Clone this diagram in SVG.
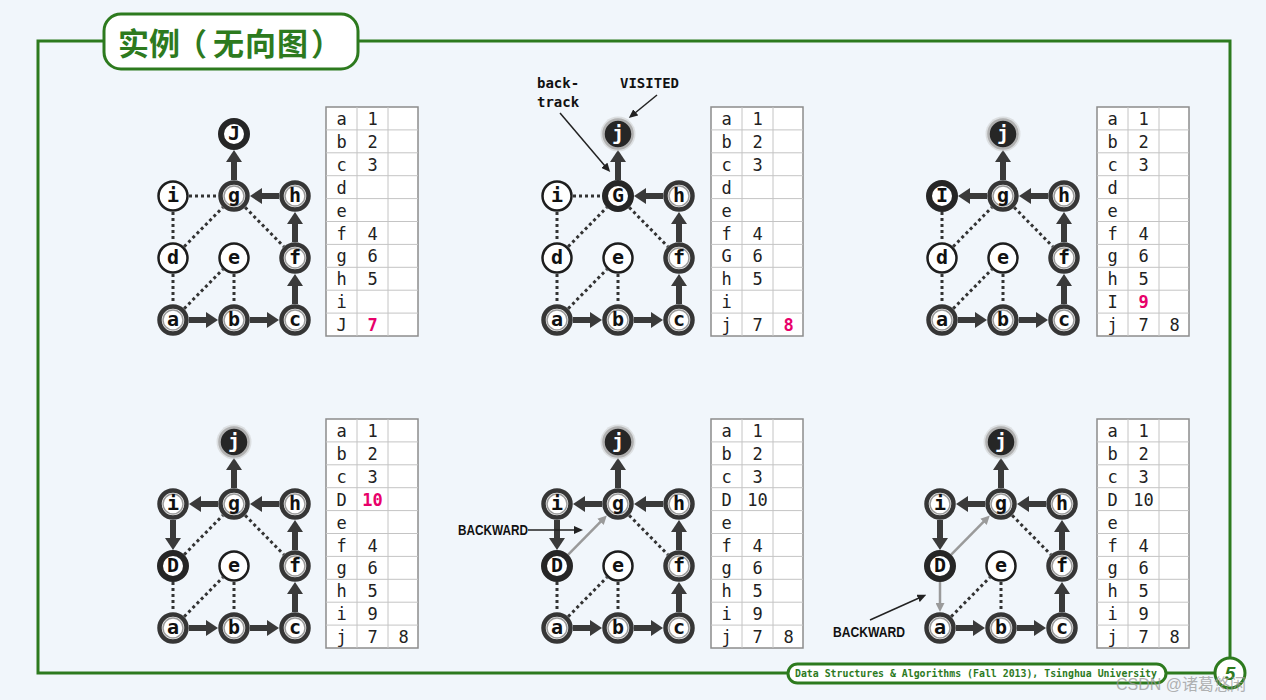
<svg xmlns="http://www.w3.org/2000/svg" xmlns:xlink="http://www.w3.org/1999/xlink" width="1266" height="700" viewBox="0 0 1266 700">
<defs>
<style>
.tree{stroke:#3a3a3a;stroke-width:6;fill:none;marker-end:url(#mTree)}
.dot{stroke:#333;stroke-width:3;stroke-dasharray:3 3;fill:none}
.back{stroke:#9a9a9a;stroke-width:2.5;fill:none;marker-end:url(#mGray)}
.note{stroke:#222;stroke-width:1.5;fill:none;marker-end:url(#mNote)}
circle.u{fill:#fff;stroke:#1e1e1e;stroke-width:2.5}
circle.v{fill:#fff;stroke:#363636;stroke-width:4.5}
circle.vi{fill:none;stroke:#9c9c9c;stroke-width:1.5}
circle.c{fill:#fff;stroke:#262626;stroke-width:6}
circle.f{fill:#262626;stroke:#b0b0b0;stroke-width:2.5}
circle.g{fill:#c8c8c8;opacity:0.5}
.lbl{font-family:"DejaVu Sans Mono","Liberation Mono",monospace;font-weight:bold;font-size:20px;text-anchor:middle;fill:#111}
.w{fill:#fff}
.tt{font-family:"DejaVu Sans Mono","Liberation Mono",monospace;font-size:17px;text-anchor:middle;fill:#222}
.pk{fill:#e8006a;font-weight:bold}
.ann{font-family:"DejaVu Sans Mono","Liberation Mono",monospace;font-weight:bold;font-size:14px;fill:#111}
.bw{font-family:"Liberation Sans","DejaVu Sans",sans-serif;font-weight:bold;font-size:14px;fill:#111}
</style>
<marker id="mTree" markerUnits="userSpaceOnUse" markerWidth="12" markerHeight="16" viewBox="0 0 12 16" refX="2" refY="8" orient="auto"><path d="M0,0 L12,8 L0,16 z" fill="#3a3a3a"/></marker>
<marker id="mGray" markerUnits="userSpaceOnUse" markerWidth="9" markerHeight="9" viewBox="0 0 9 9" refX="1" refY="4.5" orient="auto"><path d="M0,0 L9,4.5 L0,9 z" fill="#9a9a9a"/></marker>
<marker id="mNote" markerUnits="userSpaceOnUse" markerWidth="9" markerHeight="8" viewBox="0 0 9 8" refX="1" refY="4" orient="auto"><path d="M0,0 L9,4 L0,8 z" fill="#222"/></marker>
<g id="grid"><rect x="0" y="0" width="92" height="229" fill="#fff" stroke="#8c8c8c" stroke-width="1.5"/><path d="M0,22.9H92M0,45.8H92M0,68.7H92M0,91.6H92M0,114.5H92M0,137.4H92M0,160.3H92M0,183.2H92M0,206.1H92M31,0V229M62,0V229" stroke="#c4c4c4" stroke-width="1"/></g>
</defs>
<rect width="1266" height="700" fill="#f1f6fb"/>

<!-- frame -->
<g id="frame">
<rect x="38" y="41" width="1192" height="632" fill="none" stroke="#2d7a1e" stroke-width="3"/>
<rect x="104" y="14" width="254" height="55" rx="17" fill="#fff" stroke="#2d7a1e" stroke-width="3"/>
<text x="118 149 176 213 245 277 311" y="55" font-family="'Noto Sans CJK SC',sans-serif" font-weight="bold" font-size="31" fill="#2d7a1e">实例（无向图）</text>
<rect x="788" y="664" width="378" height="19" rx="9.5" fill="#fff" stroke="#2d7a1e" stroke-width="3"/>
<text x="795" y="677" font-family="'DejaVu Sans Mono',monospace" font-weight="bold" font-size="10" fill="#2d7a1e" textLength="362" lengthAdjust="spacingAndGlyphs">Data Structures &amp; Algorithms (Fall 2013), Tsinghua University</text>
<circle cx="1230" cy="673" r="15" fill="#fff" stroke="#2d7a1e" stroke-width="3"/>
<text x="1230" y="680" text-anchor="middle" font-family="'Liberation Sans',sans-serif" font-style="italic" font-weight="bold" font-size="19" fill="#2d7a1e">5</text>
<text x="1116" y="690" font-family="'Liberation Sans','Noto Sans CJK SC',sans-serif" font-size="16" fill="#9a9a9a" opacity="0.75">CSDN @诸葛悠闲</text>
</g>

<!-- ===== Panel 1 ===== -->
<g id="panel1">
<g id="p1-edges">
<path class="dot" d="M189,196 L218,196"/><path class="dot" d="M173,212 L173,242"/><path class="dot" d="M184.2,246.6 L222.8,207.4"/><path class="dot" d="M173,274 L173,304"/><path class="dot" d="M184.2,308.6 L222.8,269.4"/><path class="dot" d="M234,274 L234,304"/><path class="dot" d="M245.2,207.4 L283.8,246.6"/>
<path class="tree" d="M189,320 L208,320"/><path class="tree" d="M250,320 L269,320"/><path class="tree" d="M295,304 L295,284"/><path class="tree" d="M295,242 L295,222"/><path class="tree" d="M279,196 L260,196"/><path class="tree" d="M234,180 L234,160"/>
</g>
<g id="p1-a"><circle class="v" cx="173" cy="320" r="13.5"/><circle class="vi" cx="173" cy="320" r="10"/><text class="lbl" x="173" y="326">a</text></g>
<g id="p1-b"><circle class="v" cx="234" cy="320" r="13.5"/><circle class="vi" cx="234" cy="320" r="10"/><text class="lbl" x="234" y="326">b</text></g>
<g id="p1-c"><circle class="v" cx="295" cy="320" r="13.5"/><circle class="vi" cx="295" cy="320" r="10"/><text class="lbl" x="295" y="326">c</text></g>
<g id="p1-d"><circle class="u" cx="173" cy="258" r="14.5"/><text class="lbl" x="173" y="264">d</text></g>
<g id="p1-e"><circle class="u" cx="234" cy="258" r="14.5"/><text class="lbl" x="234" y="264">e</text></g>
<g id="p1-f"><circle class="v" cx="295" cy="258" r="13.5"/><circle class="vi" cx="295" cy="258" r="10"/><text class="lbl" x="295" y="264">f</text></g>
<g id="p1-i"><circle class="u" cx="173" cy="196" r="14.5"/><text class="lbl" x="173" y="202">i</text></g>
<g id="p1-g"><circle class="v" cx="234" cy="196" r="13.5"/><circle class="vi" cx="234" cy="196" r="10"/><text class="lbl" x="234" y="202">g</text></g>
<g id="p1-h"><circle class="v" cx="295" cy="196" r="13.5"/><circle class="vi" cx="295" cy="196" r="10"/><text class="lbl" x="295" y="202">h</text></g>
<g id="p1-j"><circle class="c" cx="234" cy="134" r="13"/><text class="lbl" x="234" y="140">J</text></g>
</g>
<g id="p1-table" transform="translate(326,107)"><use href="#grid" xlink:href="#grid"/>
<text class="tt" x="15.5" y="18">a</text><text class="tt" x="46.5" y="18">1</text>
<text class="tt" x="15.5" y="40.9">b</text><text class="tt" x="46.5" y="40.9">2</text>
<text class="tt" x="15.5" y="63.8">c</text><text class="tt" x="46.5" y="63.8">3</text>
<text class="tt" x="15.5" y="86.7">d</text>
<text class="tt" x="15.5" y="109.6">e</text>
<text class="tt" x="15.5" y="132.5">f</text><text class="tt" x="46.5" y="132.5">4</text>
<text class="tt" x="15.5" y="155.4">g</text><text class="tt" x="46.5" y="155.4">6</text>
<text class="tt" x="15.5" y="178.3">h</text><text class="tt" x="46.5" y="178.3">5</text>
<text class="tt" x="15.5" y="201.2">i</text>
<text class="tt" x="15.5" y="224.1">J</text><text class="tt pk" x="46.5" y="224.1">7</text>
</g>

<!-- ===== Panel 2 ===== -->
<g id="panel2" transform="translate(384,0)">
<g id="p2-edges">
<path class="dot" d="M189,196 L218,196"/><path class="dot" d="M173,212 L173,242"/><path class="dot" d="M184.2,246.6 L222.8,207.4"/><path class="dot" d="M173,274 L173,304"/><path class="dot" d="M184.2,308.6 L222.8,269.4"/><path class="dot" d="M234,274 L234,304"/><path class="dot" d="M245.2,207.4 L283.8,246.6"/>
<path class="tree" d="M189,320 L208,320"/><path class="tree" d="M250,320 L269,320"/><path class="tree" d="M295,304 L295,284"/><path class="tree" d="M295,242 L295,222"/><path class="tree" d="M279,196 L260,196"/><path class="tree" d="M234,180 L234,160"/>
<path class="note" d="M176,113 L221,166"/><path class="note" d="M273,95 L251,113"/>
</g>
<g id="p2-a"><circle class="v" cx="173" cy="320" r="13.5"/><circle class="vi" cx="173" cy="320" r="10"/><text class="lbl" x="173" y="326">a</text></g>
<g id="p2-b"><circle class="v" cx="234" cy="320" r="13.5"/><circle class="vi" cx="234" cy="320" r="10"/><text class="lbl" x="234" y="326">b</text></g>
<g id="p2-c"><circle class="v" cx="295" cy="320" r="13.5"/><circle class="vi" cx="295" cy="320" r="10"/><text class="lbl" x="295" y="326">c</text></g>
<g id="p2-d"><circle class="u" cx="173" cy="258" r="14.5"/><text class="lbl" x="173" y="264">d</text></g>
<g id="p2-e"><circle class="u" cx="234" cy="258" r="14.5"/><text class="lbl" x="234" y="264">e</text></g>
<g id="p2-f"><circle class="v" cx="295" cy="258" r="13.5"/><circle class="vi" cx="295" cy="258" r="10"/><text class="lbl" x="295" y="264">f</text></g>
<g id="p2-i"><circle class="u" cx="173" cy="196" r="14.5"/><text class="lbl" x="173" y="202">i</text></g>
<g id="p2-g"><circle class="c" cx="234" cy="196" r="13"/><text class="lbl" x="234" y="202">G</text></g>
<g id="p2-h"><circle class="v" cx="295" cy="196" r="13.5"/><circle class="vi" cx="295" cy="196" r="10"/><text class="lbl" x="295" y="202">h</text></g>
<g id="p2-j"><circle class="g" cx="234" cy="134" r="17.5"/><circle class="f" cx="234" cy="134" r="14.5"/><text class="lbl w" x="234" y="140">j</text></g>
<g id="p2-notes"><text class="ann" x="153" y="88">back-</text><text class="ann" x="153" y="107">track</text><text class="ann" x="236" y="88">VISITED</text></g>
</g>
<g id="p2-table" transform="translate(711,107)"><use href="#grid" xlink:href="#grid"/>
<text class="tt" x="15.5" y="18">a</text><text class="tt" x="46.5" y="18">1</text>
<text class="tt" x="15.5" y="40.9">b</text><text class="tt" x="46.5" y="40.9">2</text>
<text class="tt" x="15.5" y="63.8">c</text><text class="tt" x="46.5" y="63.8">3</text>
<text class="tt" x="15.5" y="86.7">d</text>
<text class="tt" x="15.5" y="109.6">e</text>
<text class="tt" x="15.5" y="132.5">f</text><text class="tt" x="46.5" y="132.5">4</text>
<text class="tt" x="15.5" y="155.4">G</text><text class="tt" x="46.5" y="155.4">6</text>
<text class="tt" x="15.5" y="178.3">h</text><text class="tt" x="46.5" y="178.3">5</text>
<text class="tt" x="15.5" y="201.2">i</text>
<text class="tt" x="15.5" y="224.1">j</text><text class="tt" x="46.5" y="224.1">7</text><text class="tt pk" x="77.5" y="224.1">8</text>
</g>

<!-- ===== Panel 3 ===== -->
<g id="panel3" transform="translate(769,0)">
<g id="p3-edges">
<path class="dot" d="M173,212 L173,242"/><path class="dot" d="M184.2,246.6 L222.8,207.4"/><path class="dot" d="M173,274 L173,304"/><path class="dot" d="M184.2,308.6 L222.8,269.4"/><path class="dot" d="M234,274 L234,304"/><path class="dot" d="M245.2,207.4 L283.8,246.6"/>
<path class="tree" d="M189,320 L208,320"/><path class="tree" d="M250,320 L269,320"/><path class="tree" d="M295,304 L295,284"/><path class="tree" d="M295,242 L295,222"/><path class="tree" d="M279,196 L260,196"/><path class="tree" d="M234,180 L234,160"/><path class="tree" d="M218,196 L199,196"/>
</g>
<g id="p3-a"><circle class="v" cx="173" cy="320" r="13.5"/><circle class="vi" cx="173" cy="320" r="10"/><text class="lbl" x="173" y="326">a</text></g>
<g id="p3-b"><circle class="v" cx="234" cy="320" r="13.5"/><circle class="vi" cx="234" cy="320" r="10"/><text class="lbl" x="234" y="326">b</text></g>
<g id="p3-c"><circle class="v" cx="295" cy="320" r="13.5"/><circle class="vi" cx="295" cy="320" r="10"/><text class="lbl" x="295" y="326">c</text></g>
<g id="p3-d"><circle class="u" cx="173" cy="258" r="14.5"/><text class="lbl" x="173" y="264">d</text></g>
<g id="p3-e"><circle class="u" cx="234" cy="258" r="14.5"/><text class="lbl" x="234" y="264">e</text></g>
<g id="p3-f"><circle class="v" cx="295" cy="258" r="13.5"/><circle class="vi" cx="295" cy="258" r="10"/><text class="lbl" x="295" y="264">f</text></g>
<g id="p3-i"><circle class="c" cx="173" cy="196" r="13"/><text class="lbl" x="173" y="202">I</text></g>
<g id="p3-g"><circle class="v" cx="234" cy="196" r="13.5"/><circle class="vi" cx="234" cy="196" r="10"/><text class="lbl" x="234" y="202">g</text></g>
<g id="p3-h"><circle class="v" cx="295" cy="196" r="13.5"/><circle class="vi" cx="295" cy="196" r="10"/><text class="lbl" x="295" y="202">h</text></g>
<g id="p3-j"><circle class="g" cx="234" cy="134" r="17.5"/><circle class="f" cx="234" cy="134" r="14.5"/><text class="lbl w" x="234" y="140">j</text></g>
</g>
<g id="p3-table" transform="translate(1097,107)"><use href="#grid" xlink:href="#grid"/>
<text class="tt" x="15.5" y="18">a</text><text class="tt" x="46.5" y="18">1</text>
<text class="tt" x="15.5" y="40.9">b</text><text class="tt" x="46.5" y="40.9">2</text>
<text class="tt" x="15.5" y="63.8">c</text><text class="tt" x="46.5" y="63.8">3</text>
<text class="tt" x="15.5" y="86.7">d</text>
<text class="tt" x="15.5" y="109.6">e</text>
<text class="tt" x="15.5" y="132.5">f</text><text class="tt" x="46.5" y="132.5">4</text>
<text class="tt" x="15.5" y="155.4">g</text><text class="tt" x="46.5" y="155.4">6</text>
<text class="tt" x="15.5" y="178.3">h</text><text class="tt" x="46.5" y="178.3">5</text>
<text class="tt" x="15.5" y="201.2">I</text><text class="tt pk" x="46.5" y="201.2">9</text>
<text class="tt" x="15.5" y="224.1">j</text><text class="tt" x="46.5" y="224.1">7</text><text class="tt" x="77.5" y="224.1">8</text>
</g>

<!-- ===== Panel 4 ===== -->
<g id="panel4" transform="translate(0,308)">
<g id="p4-edges">
<path class="dot" d="M184.2,246.6 L222.8,207.4"/><path class="dot" d="M173,274 L173,304"/><path class="dot" d="M184.2,308.6 L222.8,269.4"/><path class="dot" d="M234,274 L234,304"/><path class="dot" d="M245.2,207.4 L283.8,246.6"/>
<path class="tree" d="M189,320 L208,320"/><path class="tree" d="M250,320 L269,320"/><path class="tree" d="M295,304 L295,284"/><path class="tree" d="M295,242 L295,222"/><path class="tree" d="M279,196 L260,196"/><path class="tree" d="M234,180 L234,160"/><path class="tree" d="M218,196 L199,196"/><path class="tree" d="M173,212 L173,232"/>
</g>
<g id="p4-a"><circle class="v" cx="173" cy="320" r="13.5"/><circle class="vi" cx="173" cy="320" r="10"/><text class="lbl" x="173" y="326">a</text></g>
<g id="p4-b"><circle class="v" cx="234" cy="320" r="13.5"/><circle class="vi" cx="234" cy="320" r="10"/><text class="lbl" x="234" y="326">b</text></g>
<g id="p4-c"><circle class="v" cx="295" cy="320" r="13.5"/><circle class="vi" cx="295" cy="320" r="10"/><text class="lbl" x="295" y="326">c</text></g>
<g id="p4-d"><circle class="c" cx="173" cy="258" r="13"/><text class="lbl" x="173" y="264">D</text></g>
<g id="p4-e"><circle class="u" cx="234" cy="258" r="14.5"/><text class="lbl" x="234" y="264">e</text></g>
<g id="p4-f"><circle class="v" cx="295" cy="258" r="13.5"/><circle class="vi" cx="295" cy="258" r="10"/><text class="lbl" x="295" y="264">f</text></g>
<g id="p4-i"><circle class="v" cx="173" cy="196" r="13.5"/><circle class="vi" cx="173" cy="196" r="10"/><text class="lbl" x="173" y="202">i</text></g>
<g id="p4-g"><circle class="v" cx="234" cy="196" r="13.5"/><circle class="vi" cx="234" cy="196" r="10"/><text class="lbl" x="234" y="202">g</text></g>
<g id="p4-h"><circle class="v" cx="295" cy="196" r="13.5"/><circle class="vi" cx="295" cy="196" r="10"/><text class="lbl" x="295" y="202">h</text></g>
<g id="p4-j"><circle class="g" cx="234" cy="134" r="17.5"/><circle class="f" cx="234" cy="134" r="14.5"/><text class="lbl w" x="234" y="140">j</text></g>
</g>
<g id="p4-table" transform="translate(326,419)"><use href="#grid" xlink:href="#grid"/>
<text class="tt" x="15.5" y="18">a</text><text class="tt" x="46.5" y="18">1</text>
<text class="tt" x="15.5" y="40.9">b</text><text class="tt" x="46.5" y="40.9">2</text>
<text class="tt" x="15.5" y="63.8">c</text><text class="tt" x="46.5" y="63.8">3</text>
<text class="tt" x="15.5" y="86.7">D</text><text class="tt pk" x="46.5" y="86.7">10</text>
<text class="tt" x="15.5" y="109.6">e</text>
<text class="tt" x="15.5" y="132.5">f</text><text class="tt" x="46.5" y="132.5">4</text>
<text class="tt" x="15.5" y="155.4">g</text><text class="tt" x="46.5" y="155.4">6</text>
<text class="tt" x="15.5" y="178.3">h</text><text class="tt" x="46.5" y="178.3">5</text>
<text class="tt" x="15.5" y="201.2">i</text><text class="tt" x="46.5" y="201.2">9</text>
<text class="tt" x="15.5" y="224.1">j</text><text class="tt" x="46.5" y="224.1">7</text><text class="tt" x="77.5" y="224.1">8</text>
</g>

<!-- ===== Panel 5 ===== -->
<g id="panel5" transform="translate(384,308)">
<g id="p5-edges">
<path class="dot" d="M173,274 L173,304"/><path class="dot" d="M184.2,308.6 L222.8,269.4"/><path class="dot" d="M234,274 L234,304"/><path class="dot" d="M245.2,207.4 L283.8,246.6"/>
<path class="tree" d="M189,320 L208,320"/><path class="tree" d="M250,320 L269,320"/><path class="tree" d="M295,304 L295,284"/><path class="tree" d="M295,242 L295,222"/><path class="tree" d="M279,196 L260,196"/><path class="tree" d="M234,180 L234,160"/><path class="tree" d="M218,196 L199,196"/><path class="tree" d="M173,212 L173,232"/>
<path class="back" d="M184.2,246.6 L217.2,213.1"/>
<path class="note" d="M144,222 L191,222"/>
</g>
<g id="p5-a"><circle class="v" cx="173" cy="320" r="13.5"/><circle class="vi" cx="173" cy="320" r="10"/><text class="lbl" x="173" y="326">a</text></g>
<g id="p5-b"><circle class="v" cx="234" cy="320" r="13.5"/><circle class="vi" cx="234" cy="320" r="10"/><text class="lbl" x="234" y="326">b</text></g>
<g id="p5-c"><circle class="v" cx="295" cy="320" r="13.5"/><circle class="vi" cx="295" cy="320" r="10"/><text class="lbl" x="295" y="326">c</text></g>
<g id="p5-d"><circle class="c" cx="173" cy="258" r="13"/><text class="lbl" x="173" y="264">D</text></g>
<g id="p5-e"><circle class="u" cx="234" cy="258" r="14.5"/><text class="lbl" x="234" y="264">e</text></g>
<g id="p5-f"><circle class="v" cx="295" cy="258" r="13.5"/><circle class="vi" cx="295" cy="258" r="10"/><text class="lbl" x="295" y="264">f</text></g>
<g id="p5-i"><circle class="v" cx="173" cy="196" r="13.5"/><circle class="vi" cx="173" cy="196" r="10"/><text class="lbl" x="173" y="202">i</text></g>
<g id="p5-g"><circle class="v" cx="234" cy="196" r="13.5"/><circle class="vi" cx="234" cy="196" r="10"/><text class="lbl" x="234" y="202">g</text></g>
<g id="p5-h"><circle class="v" cx="295" cy="196" r="13.5"/><circle class="vi" cx="295" cy="196" r="10"/><text class="lbl" x="295" y="202">h</text></g>
<g id="p5-j"><circle class="g" cx="234" cy="134" r="17.5"/><circle class="f" cx="234" cy="134" r="14.5"/><text class="lbl w" x="234" y="140">j</text></g>
<text class="bw" x="74" y="227" textLength="70" lengthAdjust="spacingAndGlyphs">BACKWARD</text>
</g>
<g id="p5-table" transform="translate(711,419)"><use href="#grid" xlink:href="#grid"/>
<text class="tt" x="15.5" y="18">a</text><text class="tt" x="46.5" y="18">1</text>
<text class="tt" x="15.5" y="40.9">b</text><text class="tt" x="46.5" y="40.9">2</text>
<text class="tt" x="15.5" y="63.8">c</text><text class="tt" x="46.5" y="63.8">3</text>
<text class="tt" x="15.5" y="86.7">D</text><text class="tt" x="46.5" y="86.7">10</text>
<text class="tt" x="15.5" y="109.6">e</text>
<text class="tt" x="15.5" y="132.5">f</text><text class="tt" x="46.5" y="132.5">4</text>
<text class="tt" x="15.5" y="155.4">g</text><text class="tt" x="46.5" y="155.4">6</text>
<text class="tt" x="15.5" y="178.3">h</text><text class="tt" x="46.5" y="178.3">5</text>
<text class="tt" x="15.5" y="201.2">i</text><text class="tt" x="46.5" y="201.2">9</text>
<text class="tt" x="15.5" y="224.1">j</text><text class="tt" x="46.5" y="224.1">7</text><text class="tt" x="77.5" y="224.1">8</text>
</g>

<!-- ===== Panel 6 ===== -->
<g id="panel6" transform="translate(767,308)">
<g id="p6-edges">
<path class="dot" d="M184.2,308.6 L222.8,269.4"/><path class="dot" d="M234,274 L234,304"/><path class="dot" d="M245.2,207.4 L283.8,246.6"/>
<path class="tree" d="M189,320 L208,320"/><path class="tree" d="M250,320 L269,320"/><path class="tree" d="M295,304 L295,284"/><path class="tree" d="M295,242 L295,222"/><path class="tree" d="M279,196 L260,196"/><path class="tree" d="M234,180 L234,160"/><path class="tree" d="M218,196 L199,196"/><path class="tree" d="M173,212 L173,232"/>
<path class="back" d="M184.2,246.6 L217.2,213.1"/><path class="back" d="M173,274 L173,296"/>
<path class="note" d="M103,312 L152,290"/>
</g>
<g id="p6-a"><circle class="v" cx="173" cy="320" r="13.5"/><circle class="vi" cx="173" cy="320" r="10"/><text class="lbl" x="173" y="326">a</text></g>
<g id="p6-b"><circle class="v" cx="234" cy="320" r="13.5"/><circle class="vi" cx="234" cy="320" r="10"/><text class="lbl" x="234" y="326">b</text></g>
<g id="p6-c"><circle class="v" cx="295" cy="320" r="13.5"/><circle class="vi" cx="295" cy="320" r="10"/><text class="lbl" x="295" y="326">c</text></g>
<g id="p6-d"><circle class="c" cx="173" cy="258" r="13"/><text class="lbl" x="173" y="264">D</text></g>
<g id="p6-e"><circle class="u" cx="234" cy="258" r="14.5"/><text class="lbl" x="234" y="264">e</text></g>
<g id="p6-f"><circle class="v" cx="295" cy="258" r="13.5"/><circle class="vi" cx="295" cy="258" r="10"/><text class="lbl" x="295" y="264">f</text></g>
<g id="p6-i"><circle class="v" cx="173" cy="196" r="13.5"/><circle class="vi" cx="173" cy="196" r="10"/><text class="lbl" x="173" y="202">i</text></g>
<g id="p6-g"><circle class="v" cx="234" cy="196" r="13.5"/><circle class="vi" cx="234" cy="196" r="10"/><text class="lbl" x="234" y="202">g</text></g>
<g id="p6-h"><circle class="v" cx="295" cy="196" r="13.5"/><circle class="vi" cx="295" cy="196" r="10"/><text class="lbl" x="295" y="202">h</text></g>
<g id="p6-j"><circle class="g" cx="234" cy="134" r="17.5"/><circle class="f" cx="234" cy="134" r="14.5"/><text class="lbl w" x="234" y="140">j</text></g>
<text class="bw" x="66" y="329" textLength="72" lengthAdjust="spacingAndGlyphs">BACKWARD</text>
</g>
<g id="p6-table" transform="translate(1097,419)"><use href="#grid" xlink:href="#grid"/>
<text class="tt" x="15.5" y="18">a</text><text class="tt" x="46.5" y="18">1</text>
<text class="tt" x="15.5" y="40.9">b</text><text class="tt" x="46.5" y="40.9">2</text>
<text class="tt" x="15.5" y="63.8">c</text><text class="tt" x="46.5" y="63.8">3</text>
<text class="tt" x="15.5" y="86.7">D</text><text class="tt" x="46.5" y="86.7">10</text>
<text class="tt" x="15.5" y="109.6">e</text>
<text class="tt" x="15.5" y="132.5">f</text><text class="tt" x="46.5" y="132.5">4</text>
<text class="tt" x="15.5" y="155.4">g</text><text class="tt" x="46.5" y="155.4">6</text>
<text class="tt" x="15.5" y="178.3">h</text><text class="tt" x="46.5" y="178.3">5</text>
<text class="tt" x="15.5" y="201.2">i</text><text class="tt" x="46.5" y="201.2">9</text>
<text class="tt" x="15.5" y="224.1">j</text><text class="tt" x="46.5" y="224.1">7</text><text class="tt" x="77.5" y="224.1">8</text>
</g>
</svg>
